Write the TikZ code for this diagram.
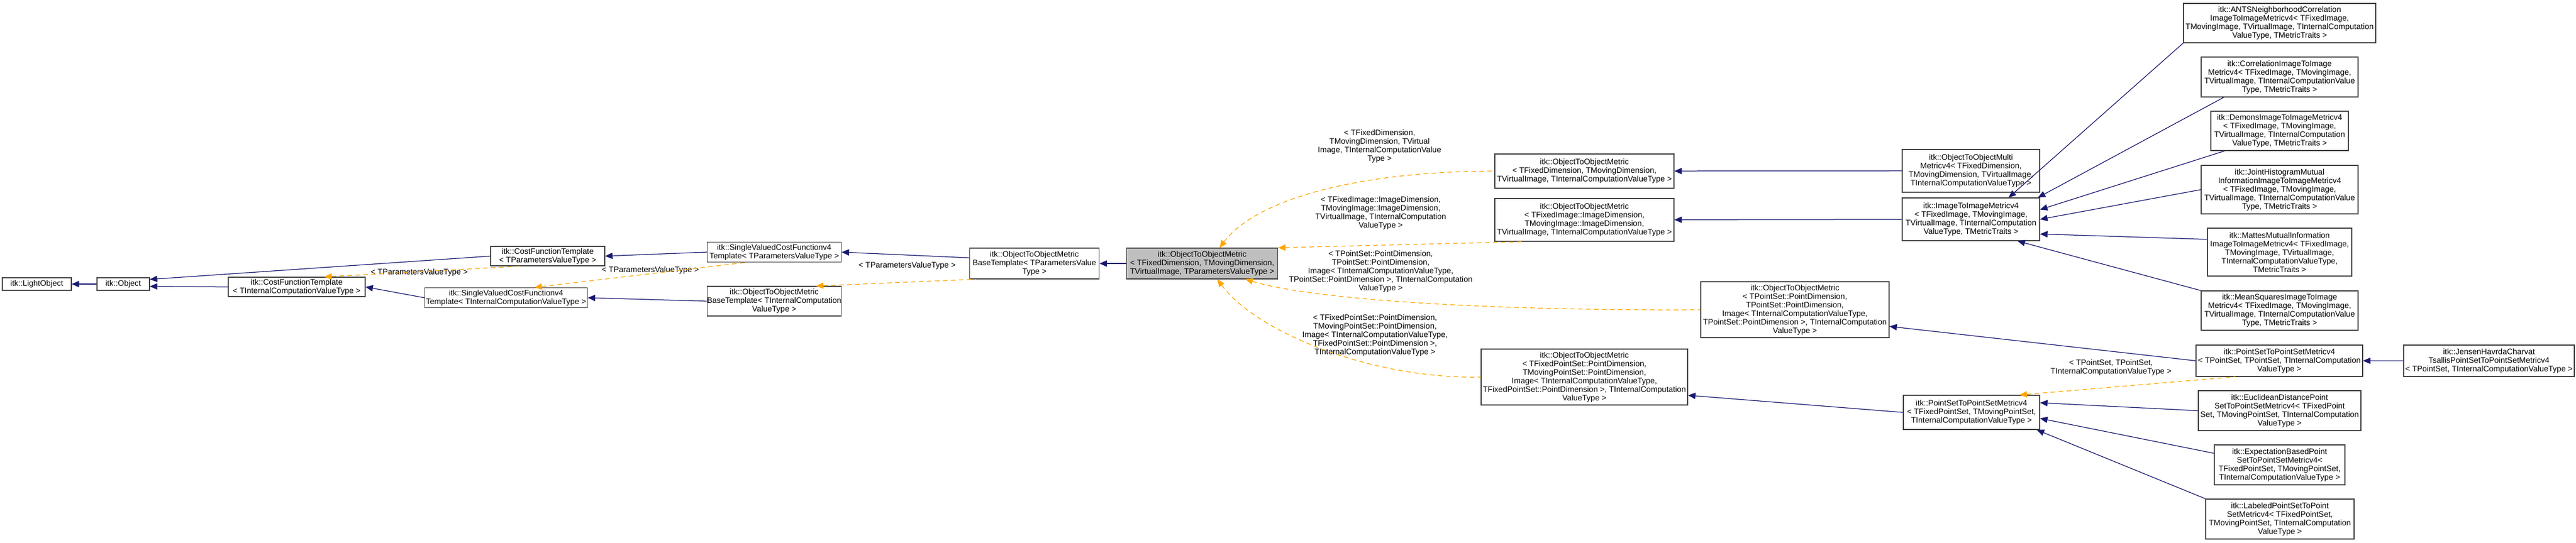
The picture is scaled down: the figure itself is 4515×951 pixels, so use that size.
\documentclass[tikz,border=0pt]{standalone}
\usepackage{fontspec}
\setmainfont{Liberation Sans}
\usetikzlibrary{arrows.meta}
\definecolor{inhblue}{HTML}{191970}
\definecolor{tmplorange}{HTML}{FFA500}
\definecolor{curgray}{HTML}{BFBFBF}

\begin{document}
\begin{tikzpicture}[x=0.2pt, y=-0.2pt,
    font=\fontsize{2.8pt}{3pt}\selectfont,
    cls/.style 2 args={draw=black!75, fill=white, line width=0.25pt, align=center,
        inner sep=0pt, minimum width=#1*0.2pt, minimum height=#2*0.2pt},
    cur/.style={fill=curgray},
    lbl/.style={align=center, inner sep=0pt},
    inh/.style={{Triangle[length=2.6pt,width=2.2pt]}-, draw=inhblue, line width=0.25pt},
    tmpl/.style={{Triangle[length=2.6pt,width=2.2pt]}-, draw=tmplorange, line width=0.25pt, dash pattern=on 1.6pt off 1.2pt}]
    \useasboundingbox (0,0) rectangle (4515,951);

    % base classes
    \node[cls={121}{22}] at (64.5,498)(lo){itk::LightObject};
    \node[cls={92}{22}] at (216,498)(obj){itk::Object};
    \node[cls={200}{34}] at (960,449)(cftP){itk::CostFunctionTemplate\\< TParametersValueType >};
    \node[cls={240}{34}] at (520,503)(cftI){itk::CostFunctionTemplate\\< TInternalComputationValueType >};
    \node[cls={235}{35}] at (1357,442)(svP){itk::SingleValuedCostFunctionv4\\Template< TParametersValueType >};
    \node[cls={285}{35}] at (887,522)(svI){itk::SingleValuedCostFunctionv4\\Template< TInternalComputationValueType >};
    \node[cls={227}{54}] at (1813,462)(baseP){itk::ObjectToObjectMetric\\BaseTemplate< TParametersValue\\Type >};
    \node[cls={235}{52}] at (1357,528)(baseI){itk::ObjectToObjectMetric\\BaseTemplate< TInternalComputation\\ValueType >};
    \node[cls={265}{54}, cur] at (2107,462)(otom){itk::ObjectToObjectMetric\\< TFixedDimension, TMovingDimension,\\TVirtualImage, TParametersValueType >};

    % instances of the metric template
    \node[cls={314}{60}] at (2777,300)(otomFD){itk::ObjectToObjectMetric\\< TFixedDimension, TMovingDimension,\\TVirtualImage, TInternalComputationValueType >};
    \node[cls={314}{75}] at (2777,385.5)(otomID){itk::ObjectToObjectMetric\\< TFixedImage::ImageDimension,\\TMovingImage::ImageDimension,\\TVirtualImage, TInternalComputationValueType >};
    \node[cls={330}{98}] at (3146,543)(otomPS){itk::ObjectToObjectMetric\\< TPointSet::PointDimension,\\TPointSet::PointDimension,\\Image< TInternalComputationValueType,\\TPointSet::PointDimension >, TInternalComputation\\ValueType >};
    \node[cls={362}{98}] at (2777,661)(otomFPS){itk::ObjectToObjectMetric\\< TFixedPointSet::PointDimension,\\TMovingPointSet::PointDimension,\\Image< TInternalComputationValueType,\\TFixedPointSet::PointDimension >, TInternalComputation\\ValueType >};

    % derived metrics
    \node[cls={241}{75}] at (3454.5,299.5)(multi){itk::ObjectToObjectMulti\\Metricv4< TFixedDimension,\\TMovingDimension, TVirtualImage,\\TInternalComputationValueType >};
    \node[cls={241}{75}] at (3454.5,384.5)(i2i){itk::ImageToImageMetricv4\\< TFixedImage, TMovingImage,\\TVirtualImage, TInternalComputation\\ValueType, TMetricTraits >};
    \node[cls={239}{60}] at (3455.5,723)(psps){itk::PointSetToPointSetMetricv4\\< TFixedPointSet, TMovingPointSet,\\TInternalComputationValueType >};
    \node[cls={337}{69}] at (3995.5,40.5)(ants){itk::ANTSNeighborhoodCorrelation\\ImageToImageMetricv4< TFixedImage,\\TMovingImage, TVirtualImage, TInternalComputation\\ValueType, TMetricTraits >};
    \node[cls={275}{70}] at (3995.5,135)(corr){itk::CorrelationImageToImage\\Metricv4< TFixedImage, TMovingImage,\\TVirtualImage, TInternalComputationValue\\Type, TMetricTraits >};
    \node[cls={241}{69}] at (3995.5,229.5)(demons){itk::DemonsImageToImageMetricv4\\< TFixedImage, TMovingImage,\\TVirtualImage, TInternalComputation\\ValueType, TMetricTraits >};
    \node[cls={275}{85}] at (3995.5,332.5)(joint){itk::JointHistogramMutual\\InformationImageToImageMetricv4\\< TFixedImage, TMovingImage,\\TVirtualImage, TInternalComputationValue\\Type, TMetricTraits >};
    \node[cls={253}{84}] at (3995.5,442)(mattes){itk::MattesMutualInformation\\ImageToImageMetricv4< TFixedImage,\\TMovingImage, TVirtualImage,\\TInternalComputationValueType,\\TMetricTraits >};
    \node[cls={275}{69}] at (3995.5,544.5)(means){itk::MeanSquaresImageToImage\\Metricv4< TFixedImage, TMovingImage,\\TVirtualImage, TInternalComputationValue\\Type, TMetricTraits >};
    \node[cls={292}{55}] at (3995,632.5)(pstps){itk::PointSetToPointSetMetricv4\\< TPointSet, TPointSet, TInternalComputation\\ValueType >};
    \node[cls={299}{55}] at (4362.5,632.5)(jensen){itk::JensenHavrdaCharvat\\TsallisPointSetToPointSetMetricv4\\< TPointSet, TInternalComputationValueType >};
    \node[cls={285}{70}] at (3995.5,720)(eucl){itk::EuclideanDistancePoint\\SetToPointSetMetricv4< TFixedPoint\\Set, TMovingPointSet, TInternalComputation\\ValueType >};
    \node[cls={229}{70}] at (3995.5,815)(expect){itk::ExpectationBasedPoint\\SetToPointSetMetricv4<\\TFixedPointSet, TMovingPointSet,\\TInternalComputationValueType >};
    \node[cls={260}{70}] at (3996,910)(labeled){itk::LabeledPointSetToPoint\\SetMetricv4< TFixedPointSet,\\TMovingPointSet, TInternalComputation\\ValueType >};

    % template arguments
    \node[lbl] at (735,478)(lTP1){< TParametersValueType >};
    \node[lbl] at (1140,474)(lTP2){< TParametersValueType >};
    \node[lbl] at (1590,466)(lTP3){< TParametersValueType >};
    \node[lbl] at (2418,256)(lFD){< TFixedDimension,\\TMovingDimension, TVirtual\\Image, TInternalComputationValue\\Type >};
    \node[lbl] at (2420,373)(lID){< TFixedImage::ImageDimension,\\TMovingImage::ImageDimension,\\TVirtualImage, TInternalComputation\\ValueType >};
    \node[lbl] at (2420,476)(lPS){< TPointSet::PointDimension,\\TPointSet::PointDimension,\\Image< TInternalComputationValueType,\\TPointSet::PointDimension >, TInternalComputation\\ValueType >};
    \node[lbl] at (2410,588)(lFPS){< TFixedPointSet::PointDimension,\\TMovingPointSet::PointDimension,\\Image< TInternalComputationValueType,\\TFixedPointSet::PointDimension >,\\TInternalComputationValueType >};
    \node[lbl] at (3700,644)(lPP){< TPointSet, TPointSet,\\TInternalComputationValueType >};

    % inheritance
    \draw[inh] (lo) -- (obj);
    \draw[inh] (obj.10) -- (cftP.west);
    \draw[inh] (obj.-5) -- (cftI.west);
    \draw[inh] (cftP.east) -- (svP.west);
    \draw[inh] (cftI.east) -- (svI.west);
    \draw[inh] (svP.east) -- (baseP.175);
    \draw[inh] (svI.east) -- (baseI.west);
    \draw[inh] (baseP) -- (otom);
    \draw[inh] (otomFD) -- (multi);
    \draw[inh] (otomID) -- (i2i);
    \draw[inh] (otomPS.-10) -- (pstps.west);
    \draw[inh] (otomFPS.-10) -- (psps.west);
    \draw[inh] (pstps) -- (jensen);
    \draw[inh] (i2i.30) -- (ants.south west);
    \draw[inh] (i2i.18) -- (corr.200);
    \draw[inh] (i2i.8) -- (demons.200);
    \draw[inh] (i2i.0) -- (joint.west);
    \draw[inh] (i2i.-12) -- (mattes.170);
    \draw[inh] (i2i.-25) -- (means.north west);
    \draw[inh] (psps.8) -- (eucl.west);
    \draw[inh] (psps.-5) -- (expect.170);
    \draw[inh] (psps.-15) -- (labeled.north west);

    % template instances
    \draw[tmpl] (cftI.20) -- (cftP.200);
    \draw[tmpl] (svI.20) -- (svP.200);
    \draw[tmpl] (baseI.20) -- (baseP.195);
    \draw[tmpl] (otom.42) .. controls (2200,350) and (2380,300) .. (otomFD.west);
    \draw[tmpl] (otom.north east) -- (otomID.200);
    \draw[tmpl] (otom.-20) .. controls (2300,525) and (2600,545) .. (otomPS.west);
    \draw[tmpl] (otom.-46) .. controls (2200,580) and (2400,665) .. (otomFPS.west);
    \draw[tmpl] (psps.20) -- (pstps.200);
\end{tikzpicture}
\end{document}
